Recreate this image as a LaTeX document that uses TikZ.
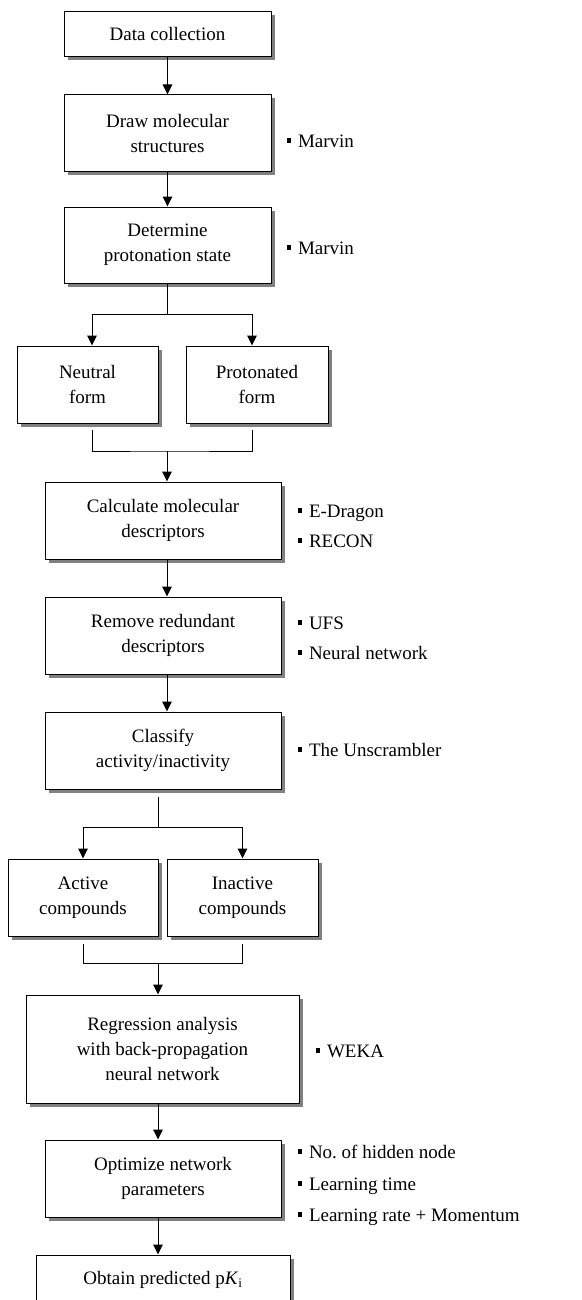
\documentclass[tikz,border=0pt]{standalone}
\usepackage{fontspec}
\setmainfont{Liberation Serif}
\usetikzlibrary{positioning, arrows.meta, shadows}
\newcommand{\tbul}{\rule[4.5pt]{4.5pt}{5pt}\hspace{7pt}}

\begin{document}
\begin{tikzpicture}[x=1pt, y=-1pt, line width=1pt,
    every node/.style={font=\fontsize{19}{25}\selectfont},
    procbox/.style={draw, fill=white, align=center, inner sep=2pt,
        drop shadow={shadow xshift=3.5pt, shadow yshift=-3.5pt, fill=black!50, opacity=1}},
    tool/.style={anchor=base west, inner sep=0pt},
    flow/.style={-{Triangle[width=9.5pt, length=10pt]}}]
    \clip (0,0) rectangle (581,1300);

    % Main steps
    \node[procbox, minimum width=207, minimum height=45] (collect) at (167.5,34.5) {Data collection};
    \node[procbox, minimum width=207, minimum height=77] (drawmol) at (167.5,133.5) {Draw molecular\\structures};
    \node[procbox, minimum width=207, minimum height=76] (protstate) at (167.5,245) {Determine\\protonation state};
    \node[procbox, minimum width=141, minimum height=77] (neutral) at (87.5,384.5) {Neutral\\form};
    \node[procbox, minimum width=142, minimum height=77] (protonated) at (257,384.5) {Protonated\\form};
    \node[procbox, minimum width=236, minimum height=77] (calc) at (163,520.5) {Calculate molecular\\descriptors};
    \node[procbox, minimum width=236, minimum height=77] (remove) at (163,635.5) {Remove redundant\\descriptors};
    \node[procbox, minimum width=236, minimum height=77] (classify) at (163,750.5) {Classify\\activity/inactivity};
    \node[procbox, minimum width=150, minimum height=77] (active) at (83,897.5) {Active\\compounds};
    \node[procbox, minimum width=151, minimum height=77] (inactive) at (242.5,897.5) {Inactive\\compounds};
    \node[procbox, minimum width=273, minimum height=108] (regress) at (162.5,1049) {Regression analysis\\with back-propagation\\neural network};
    \node[procbox, minimum width=236, minimum height=77] (optimize) at (163,1178.5) {Optimize network\\parameters};
    \node[procbox, minimum width=254, minimum height=50] (obtain) at (163,1280) {Obtain predicted p\textit{K}\textsubscript{i}};

    % Tools
    \node[tool] (marvin1) at (286,148) {\tbul Marvin};
    \node[tool] (marvin2) at (286,254) {\tbul Marvin};
    \node[tool] (edragon) at (297,517) {\tbul E-Dragon};
    \node[tool] (recon) at (297,547) {\tbul RECON};
    \node[tool] (ufs) at (297,629) {\tbul UFS};
    \node[tool] (nnet) at (297,659) {\tbul Neural network};
    \node[tool] (unscr) at (297,756) {\tbul The Unscrambler};
    \node[tool] (weka) at (315,1057) {\tbul WEKA};
    \node[tool] (hidden) at (297,1158) {\tbul No.\ of hidden node};
    \node[tool] (ltime) at (297,1190) {\tbul Learning time};
    \node[tool] (lrate) at (297,1221) {\tbul Learning rate + Momentum};

    % Connectors
    \coordinate (split1) at (167.5,314);
    \coordinate (merge1) at (167,451);
    \coordinate (split2) at (158,827);
    \coordinate (merge2) at (158,963);
    \draw[flow] (collect) -- (drawmol);
    \draw[flow] (drawmol) -- (protstate);
    \draw (protstate) -- (split1);
    \draw[flow] (split1) -| ([xshift=4.5pt]neutral.north);
    \draw[flow] (split1) -| ([xshift=-5pt]protonated.north);
    \draw ([xshift=4.5pt,yshift=-6pt]neutral.south) |- (merge1) -| ([xshift=-5pt,yshift=-6pt]protonated.south);
    \draw[flow] (merge1) -- (merge1 |- calc.north);
    \draw[flow] ([xshift=4pt]calc.south) -- ([xshift=4pt]remove.north);
    \draw[flow] ([xshift=4pt]remove.south) -- ([xshift=4pt]classify.north);
    \draw ([xshift=-5pt,yshift=-7pt]classify.south) -- (split2);
    \draw[flow] (split2) -| (active.north);
    \draw[flow] (split2) -| (inactive.north);
    \draw ([yshift=-7pt]active.south) |- (merge2) -| ([yshift=-7pt]inactive.south);
    \draw[flow] (merge2) -- (merge2 |- regress.north);
    \draw[flow] ([xshift=-4.5pt]regress.south) -- ([xshift=-5pt]optimize.north);
    \draw[flow] ([xshift=-5pt]optimize.south) -- ([xshift=-5pt]obtain.north);
\end{tikzpicture}
\end{document}
